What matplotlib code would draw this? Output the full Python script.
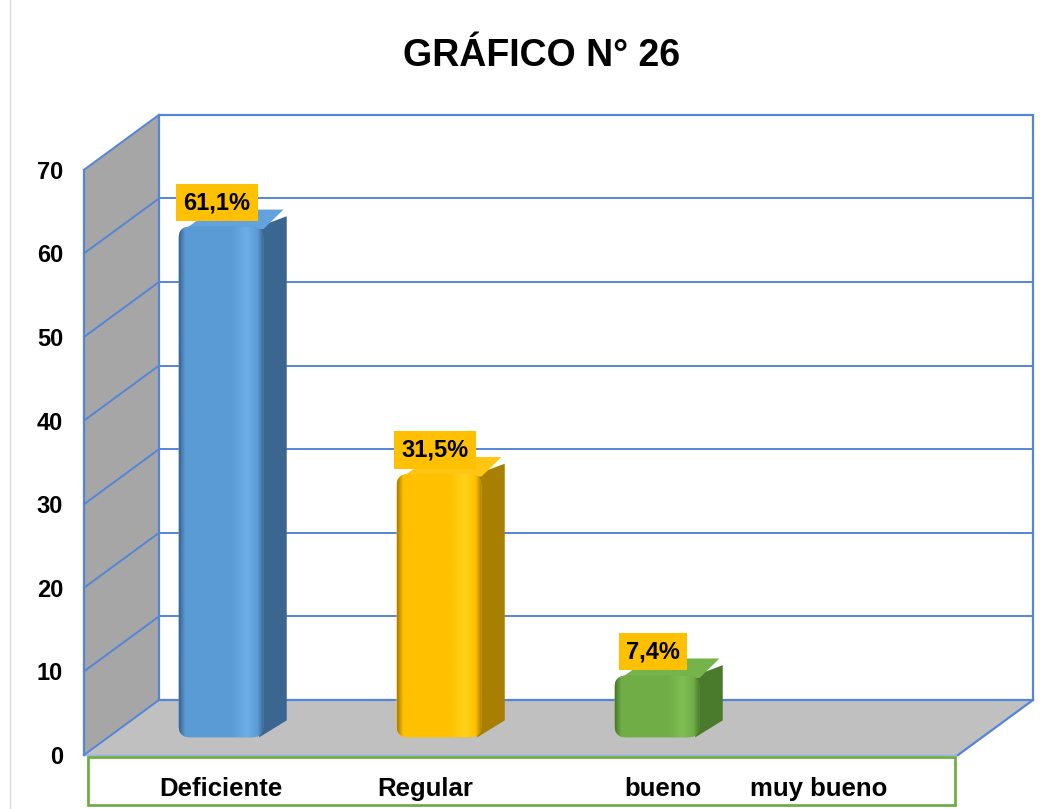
import numpy as np
import matplotlib
matplotlib.use("Agg")
import matplotlib.pyplot as plt
from matplotlib.patches import Polygon, FancyBboxPatch, Rectangle
from matplotlib.colors import LinearSegmentedColormap
from matplotlib.lines import Line2D

# ---------------- data ----------------
title = "GRÁFICO N° 26"
categories = ["Deficiente", "Regular", "bueno", "muy bueno"]
values = [61.1, 31.5, 7.4, 0.0]
value_labels = ["61,1%", "31,5%", "7,4%", ""]
yticks = [0, 10, 20, 30, 40, 50, 60, 70]

# ---------------- style ----------------
front_cols = ["#5b9bd5", "#ffc000", "#70ad47", "#a5a5a5"]
light_cols = ["#6eaee8", "#ffd21a", "#7fbf52", "#bbbbbb"]
dark_cols = ["#3a6690", "#a87f00", "#4a7a2c", "#777777"]
top_cols = ["#63a2dc", "#ffc514", "#75b34b", "#b0b0b0"]
label_dx = [0.0, -0.064, 0.028, -0.26]   # label nudges (category units)
grid_col = "#5585d6"
FONT = "Liberation Sans"

W, H, DPI = 1064, 809, 100
PX_X = 218.0          # px per category
PX_Y = 8.36           # px per value unit
X0 = 197.0            # px of category 0 at front plane
Y0 = 755.0            # px (from top) of value 0 at front plane
DX = 75.0 / PX_X      # depth shift in category units
DY = 55.0 / PX_Y      # depth shift in value units
CL = (84 - X0) / PX_X
CR = (958 - X0) / PX_X
VMAX = 70
D0, D1 = 0.32, 0.63   # bar depth range
HW = 42.5 / PX_X      # bar half width

fig = plt.figure(figsize=(W / DPI, H / DPI), dpi=DPI)
fig.patch.set_facecolor("white")
ax = fig.add_axes([0, 0, 1, 1])
ax.set_axis_off()
xlim = (-X0 / PX_X, (W - X0) / PX_X)
ylim = (-(H - Y0) / PX_Y, Y0 / PX_Y)

# faint page border
fig.add_artist(Line2D([10 / W, 10 / W], [0, 1], color="#d9d9d9", lw=1))

# ---------- walls ----------
left_wall = Polygon([(CL, 0), (CL, VMAX), (CL + DX, VMAX + DY), (CL + DX, DY)],
                    closed=True, facecolor="#a6a6a6", edgecolor="none", zorder=1)
ax.add_patch(left_wall)
floor = Polygon([(CL, 0), (CR, 0), (CR + DX, DY), (CL + DX, DY)],
                closed=True, facecolor="#c0c0c0", edgecolor="none", zorder=1)
ax.add_patch(floor)
back = Rectangle((CL + DX, DY), CR - CL, VMAX, facecolor="white",
                 edgecolor=grid_col, lw=1.6, zorder=1.5)
ax.add_patch(back)
for v in yticks[1:-1]:
    ax.plot([CL + DX, CR + DX], [v + DY, v + DY], color=grid_col, lw=1.4, zorder=2)
for v in yticks:
    ax.plot([CL, CL + DX], [v, v + DY], color=grid_col, lw=1.4, zorder=2)
ax.plot([CL, CL], [0, VMAX], color=grid_col, lw=1.6, zorder=2)
ax.plot([CL + DX, CL + DX], [DY, VMAX + DY], color=grid_col, lw=1.4, zorder=2)
ax.plot([CR, CR + DX], [0, DY], color=grid_col, lw=1.6, zorder=2)
ax.plot([CL, CR], [0, 0], color=grid_col, lw=1.0, alpha=0.6, zorder=2)

# ---------- bars ----------
for i, (cat, v) in enumerate(zip(categories, values)):
    if v <= 0:
        continue
    xl = i + D0 * DX - HW
    xr = i + D0 * DX + HW
    yb = D0 * DY
    yt = v + D0 * DY
    ddx = (D1 - D0) * DX
    ddy = (D1 - D0) * DY
    side = Polygon([(xr - 0.02, yb), (xr + ddx, yb + ddy), (xr + ddx, yt + ddy - 0.8),
                    (xr - 0.02, yt)], closed=True, facecolor=dark_cols[i],
                   edgecolor="none", zorder=3)
    ax.add_patch(side)
    top = Polygon([(xl + 0.03, yt - 0.3), (xr, yt - 0.3), (xr + ddx - 0.015, yt + ddy),
                   (xl + ddx + 0.05, yt + ddy)], closed=True,
                  facecolor=top_cols[i], edgecolor="none", zorder=3)
    ax.add_patch(top)
    front = FancyBboxPatch((xl, yb), xr - xl, yt - yb,
                           boxstyle="round,pad=0,rounding_size=0.055",
                           mutation_aspect=PX_X / PX_Y,
                           facecolor=front_cols[i], edgecolor="none", zorder=4)
    ax.add_patch(front)
    cmap = LinearSegmentedColormap.from_list(
        "g%d" % i,
        [(0.0, dark_cols[i]), (0.07, front_cols[i]), (0.62, front_cols[i]),
         (0.8, light_cols[i]), (0.93, front_cols[i]), (1.0, dark_cols[i])])
    grad = np.linspace(0, 1, 200).reshape(1, -1)
    im = ax.imshow(grad, cmap=cmap, extent=(xl, xr, yb, yt), aspect="auto",
                   interpolation="bilinear", zorder=4.5, origin="lower")
    im.set_clip_path(front)
    # value label
    if value_labels[i]:
        ax.text(i + D0 * DX - 4 / PX_X, yt + 24 / PX_Y, value_labels[i],
                ha="center", va="center", fontsize=17, fontweight="bold",
                family=FONT, color="black", zorder=6,
                bbox=dict(boxstyle="square,pad=0.3", facecolor="#ffc000",
                          edgecolor="none"))

# ---------- y tick labels ----------
for v in yticks:
    ax.text((63 - X0) / PX_X, v - 9 / PX_Y, str(v), ha="right", va="baseline",
            fontsize=17, fontweight="bold", family=FONT, color="black")

# ---------- category label box ----------
box_top = -(757 - Y0) / PX_Y
box_bot = -(805 - Y0) / PX_Y
ax.add_patch(Rectangle(((88 - X0) / PX_X, box_bot), (955 - 88) / PX_X,
                       box_top - box_bot, facecolor="white",
                       edgecolor="#70ad47", lw=2, zorder=2))
for i, cat in enumerate(categories):
    ax.text(i + D0 * DX + label_dx[i], -(796 - Y0) / PX_Y, cat,
            ha="center", va="baseline", fontsize=18.5, fontweight="bold",
            family=FONT, color="black", zorder=3)

# ---------- title ----------
fig.text(542 / W, 1 - 66 / H, title, ha="center", va="baseline",
         fontsize=27, fontweight="bold", family=FONT, color="black")

ax.set_xlim(*xlim)
ax.set_ylim(*ylim)
fig.savefig("out.png", dpi=DPI, facecolor="white")
